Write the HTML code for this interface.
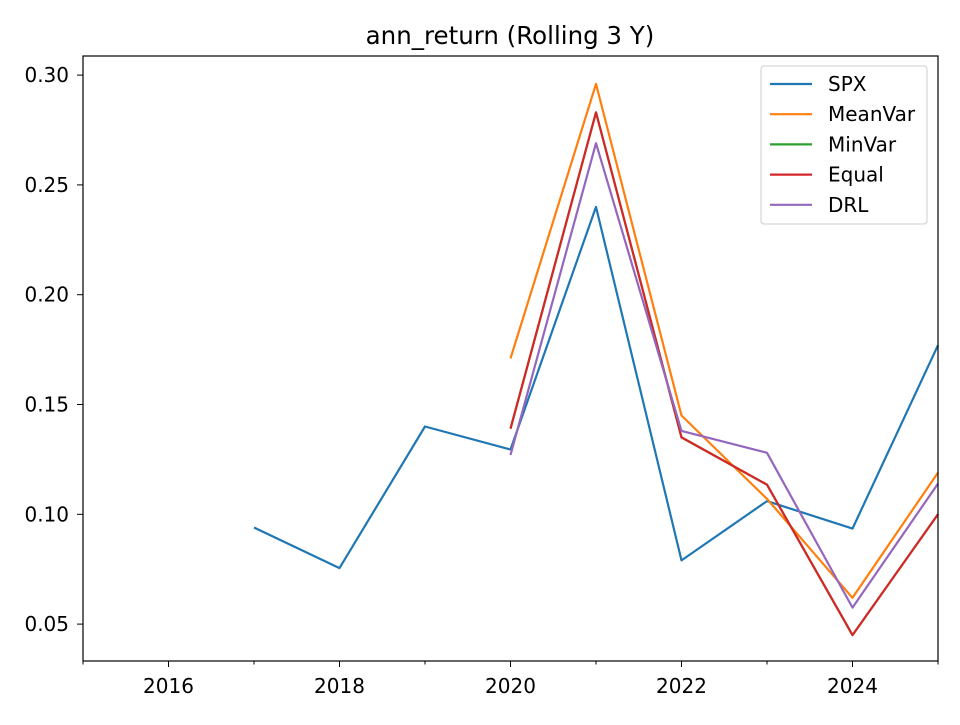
<!DOCTYPE html>
<html><head><meta charset="utf-8"><style>
body{margin:0;background:#fff}
text{font-family:"DejaVu Sans","Liberation Sans",sans-serif;fill:#000}
</style></head><body>
<svg id="chart" width="960" height="720" xmlns="http://www.w3.org/2000/svg">
<rect width="960" height="720" fill="#fff"/>
<text x="510" y="44" font-size="24.5" text-anchor="middle">ann_return (Rolling 3 Y)</text>
<g id="series"></g>
<g id="axes"></g>
<g id="legend"></g>
</svg>
<script>
const years=[2017,2018,2019,2020,2021,2022,2023,2024,2025];
const spx=[0.094,0.0755,0.140,0.1295,0.240,0.079,0.106,0.0935,0.177];
const years2=[2020,2021,2022,2023,2024,2025];
const meanVar=[0.171,0.296,0.145,0.107,0.062,0.119];
const minVar=[0.139,0.283,0.135,0.1135,0.045,0.100];
const equal=[0.139,0.283,0.135,0.1135,0.045,0.100];
const drl=[0.127,0.269,0.138,0.128,0.0575,0.114];
const xTicks=[2016,2018,2020,2022,2024];
const xMinor=[2015,2017,2019,2021,2023,2025];
const yTicks=[0.05,0.10,0.15,0.20,0.25,0.30];
const yLabels=["0.05","0.10","0.15","0.20","0.25","0.30"];
const names=["SPX","MeanVar","MinVar","Equal","DRL"];
const colors=["#1f77b4","#ff7f0e","#2ca02c","#d62728","#9467bd"];

const L=83,R=938,T=56,B=661;
const X0=2015,X1=2025,Y0=0.0332,Y1=0.3087;
const xs=v=>L+(v-X0)/(X1-X0)*(R-L);
const ys=v=>B-(v-Y0)/(Y1-Y0)*(B-T);
const NS="http://www.w3.org/2000/svg";
function mk(tag,attrs,parent){const e=document.createElementNS(NS,tag);for(const k in attrs)e.setAttribute(k,attrs[k]);parent.appendChild(e);return e;}

const sg=document.getElementById('series');
const data=[[years,spx],[years2,meanVar],[years2,minVar],[years2,equal],[years2,drl]];
data.forEach((d,i)=>{
  const pts=d[0].map((x,j)=>xs(x).toFixed(1)+','+ys(d[1][j]).toFixed(1)).join(' ');
  const p=mk('polyline',{points:pts,fill:'none',stroke:colors[i],'stroke-width':2.2,'stroke-linejoin':'round'},sg);
  
  
});

const ag=document.getElementById('axes');
const frame=mk('rect',{x:L,y:T,width:R-L,height:B-T,fill:'none',stroke:'#000','stroke-width':1.2},ag);


xTicks.forEach(v=>{
  mk('line',{x1:xs(v),x2:xs(v),y1:B,y2:B+6,stroke:'#000'},ag);
  const t=mk('text',{x:xs(v),y:B+32,'font-size':20,'text-anchor':'middle'},ag);
  t.textContent=v;
  
  
});
xMinor.forEach(v=>{mk('line',{x1:xs(v),x2:xs(v),y1:B,y2:B+3.5,stroke:'#000'},ag);});
yTicks.forEach((v,i)=>{
  mk('line',{x1:L-6,x2:L,y1:ys(v),y2:ys(v),stroke:'#000'},ag);
  const t=mk('text',{x:L-14,y:ys(v)+7,'font-size':20,'text-anchor':'end'},ag);
  t.textContent=yLabels[i];
  
  
});

const lg=document.getElementById('legend');


mk('rect',{x:761,y:66,width:166,height:158,rx:3,fill:'#fff','fill-opacity':0.8,stroke:'#ccc'},lg);
names.forEach((n,i)=>{
  const y=84+i*30.2;
  mk('line',{x1:770,x2:812,y1:y,y2:y,stroke:colors[i],'stroke-width':2.2},lg);
  const t=mk('text',{x:828,y:y+7,'font-size':20},lg);
  t.textContent=n;
  
  
});
</script>
</body></html>
